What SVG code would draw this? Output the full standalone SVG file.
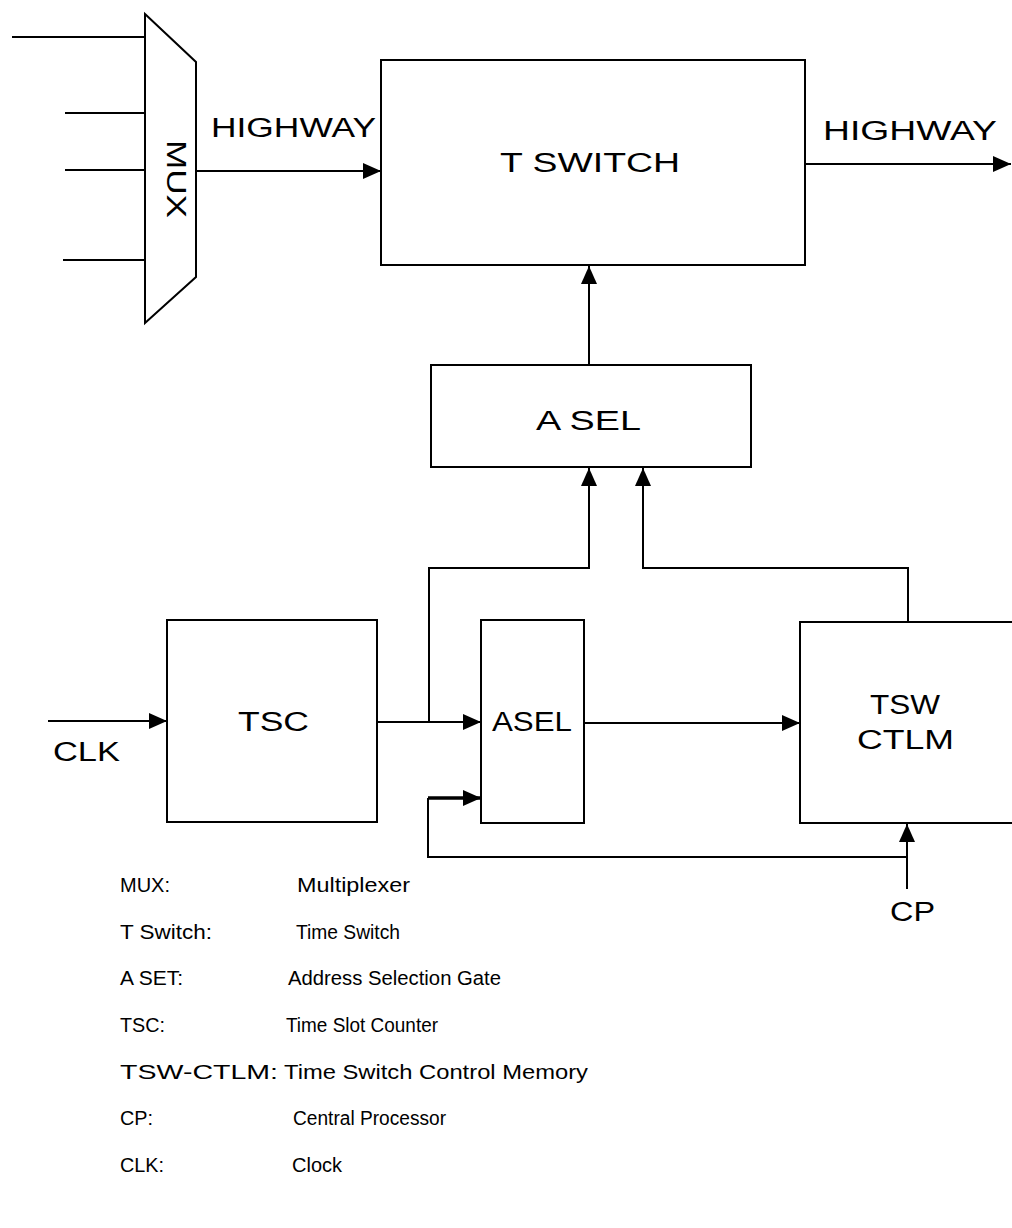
<svg xmlns="http://www.w3.org/2000/svg" width="1012" height="1228" viewBox="0 0 1012 1228">
<style>
.box{fill:#fff;stroke:#000;stroke-width:2}
.ln{fill:none;stroke:#000;stroke-width:2}
.lbl{font-family:"Liberation Sans",Arial,sans-serif;font-size:27px;fill:#000}
.leg{font-family:"Liberation Sans",Arial,sans-serif;font-size:20px;fill:#000}
</style>
<defs>
<marker id="ah" markerUnits="userSpaceOnUse" markerWidth="18" markerHeight="16" refX="18" refY="8" orient="auto">
<path d="M0,0 L18,8 L0,16 Z" fill="#000"/>
</marker>
</defs>
<rect width="1012" height="1228" fill="#fff"/>
<g id="connectors">
<line class="ln" x1="12" y1="37" x2="170" y2="37"/>
<line class="ln" x1="65" y1="113" x2="148" y2="113"/>
<line class="ln" x1="65" y1="170" x2="145" y2="170"/>
<line class="ln" x1="63" y1="260" x2="148" y2="260"/>
<line class="ln" x1="196" y1="171" x2="381" y2="171" marker-end="url(#ah)"/>
<line class="ln" x1="805" y1="164" x2="1011" y2="164" marker-end="url(#ah)"/>
<line class="ln" x1="589" y1="365" x2="589" y2="266" marker-end="url(#ah)"/>
<polyline class="ln" points="429,722 429,568 589,568 589,468" marker-end="url(#ah)"/>
<polyline class="ln" points="908,622 908,568 643,568 643,468" marker-end="url(#ah)"/>
<line class="ln" x1="48" y1="721" x2="167" y2="721" marker-end="url(#ah)"/>
<line class="ln" x1="377" y1="722" x2="481" y2="722" marker-end="url(#ah)"/>
<line class="ln" x1="584" y1="723" x2="800" y2="723" marker-end="url(#ah)"/>
<line class="ln" x1="907" y1="889" x2="907" y2="824" marker-end="url(#ah)"/>
<polyline class="ln" points="907,857 428,857 428,798"/>
<line x1="428" y1="798" x2="481" y2="798" stroke="#000" stroke-width="3.5" marker-end="url(#ah)"/>
</g>
<g id="mux">
<polygon class="box" points="145,14 196,62 196,277 145,323"/>
<text class="lbl" font-size="23" transform="translate(167,140) rotate(90)" textLength="78" lengthAdjust="spacingAndGlyphs">MUX</text>
</g>
<g id="tswitch">
<rect class="box" x="381" y="60" width="424" height="205"/>
<text class="lbl" x="500" y="172" textLength="180" lengthAdjust="spacingAndGlyphs">T SWITCH</text>
</g>
<g id="highway-in">
<text class="lbl" x="211" y="137" textLength="165" lengthAdjust="spacingAndGlyphs">HIGHWAY</text>
</g>
<g id="highway-out">
<text class="lbl" x="823" y="140" textLength="174" lengthAdjust="spacingAndGlyphs">HIGHWAY</text>
</g>
<g id="asel-top">
<rect class="box" x="431" y="365" width="320" height="102"/>
<text class="lbl" x="536" y="430" textLength="105" lengthAdjust="spacingAndGlyphs">A SEL</text>
</g>
<g id="tsc">
<rect class="box" x="167" y="620" width="210" height="202"/>
<text class="lbl" x="238" y="731" textLength="71" lengthAdjust="spacingAndGlyphs">TSC</text>
</g>
<g id="clk">
<text class="lbl" x="53" y="761" textLength="67" lengthAdjust="spacingAndGlyphs">CLK</text>
</g>
<g id="asel">
<rect class="box" x="481" y="620" width="103" height="203"/>
<text class="lbl" x="492" y="731" textLength="80" lengthAdjust="spacingAndGlyphs">ASEL</text>
</g>
<g id="tswctlm">
<rect class="box" x="800" y="622" width="220" height="201"/>
<text class="lbl" x="870" y="714" textLength="70" lengthAdjust="spacingAndGlyphs">TSW</text>
<text class="lbl" x="857" y="749" textLength="97" lengthAdjust="spacingAndGlyphs">CTLM</text>
</g>
<g id="cp">
<text class="lbl" x="890" y="921" textLength="45" lengthAdjust="spacingAndGlyphs">CP</text>
</g>
<g id="legend">
<text class="leg" x="120" y="892" textLength="50" lengthAdjust="spacingAndGlyphs">MUX:</text>
<text class="leg" x="297" y="892" textLength="113" lengthAdjust="spacingAndGlyphs">Multiplexer</text>
<text class="leg" x="120" y="939" textLength="92" lengthAdjust="spacingAndGlyphs">T Switch:</text>
<text class="leg" x="296" y="939" textLength="104" lengthAdjust="spacingAndGlyphs">Time Switch</text>
<text class="leg" x="120" y="985" textLength="63" lengthAdjust="spacingAndGlyphs">A SET:</text>
<text class="leg" x="288" y="985" textLength="213" lengthAdjust="spacingAndGlyphs">Address Selection Gate</text>
<text class="leg" x="120" y="1032" textLength="45" lengthAdjust="spacingAndGlyphs">TSC:</text>
<text class="leg" x="286" y="1032" textLength="152" lengthAdjust="spacingAndGlyphs">Time Slot Counter</text>
<text class="leg" x="120" y="1079" textLength="158" lengthAdjust="spacingAndGlyphs">TSW-CTLM:</text>
<text class="leg" x="284" y="1079" textLength="304" lengthAdjust="spacingAndGlyphs">Time Switch Control Memory</text>
<text class="leg" x="120" y="1125" textLength="33" lengthAdjust="spacingAndGlyphs">CP:</text>
<text class="leg" x="293" y="1125" textLength="153" lengthAdjust="spacingAndGlyphs">Central Processor</text>
<text class="leg" x="120" y="1172" textLength="44" lengthAdjust="spacingAndGlyphs">CLK:</text>
<text class="leg" x="292" y="1172" textLength="50" lengthAdjust="spacingAndGlyphs">Clock</text>
</g>
</svg>
